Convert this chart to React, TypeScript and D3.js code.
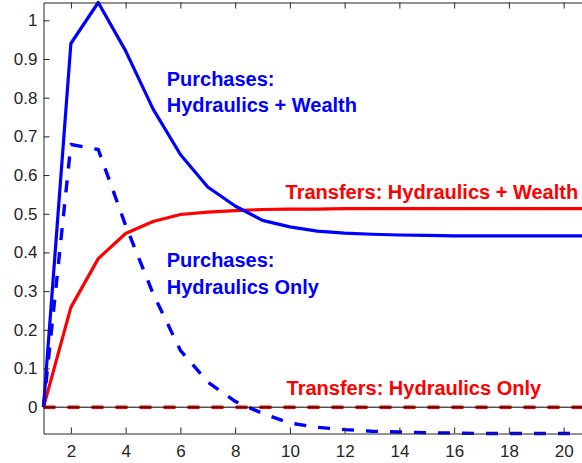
import { useRef, useEffect } from "react";
import * as d3 from "d3";

const WIDTH = 582;
const HEIGHT = 463;
const LEFT = 43.5;
const RIGHT = 591; // plot box runs past the right edge of the picture
const TOP = 2.5;
const BOTTOM = 433.5;

const periods = [1, 2, 3, 4, 5, 6, 7, 8, 9, 10, 11, 12, 13, 14, 15, 16, 17, 18, 19, 20, 21];
const purchasesWealth = [0, 0.94, 1.046, 0.921, 0.771, 0.653, 0.569, 0.52, 0.483, 0.466, 0.455, 0.45, 0.447, 0.445, 0.444, 0.443, 0.443, 0.443, 0.443, 0.443, 0.443];
const transfersWealth = [0, 0.258, 0.384, 0.449, 0.48, 0.498, 0.504, 0.508, 0.511, 0.512, 0.512, 0.513, 0.513, 0.513, 0.513, 0.513, 0.513, 0.513, 0.513, 0.513, 0.513];
const purchasesOnly = [0, 0.679, 0.666, 0.47, 0.294, 0.147, 0.065, 0.015, -0.016, -0.041, -0.052, -0.058, -0.062, -0.064, -0.066, -0.067, -0.068, -0.068, -0.068, -0.068, -0.068];
const transfersOnly = [0, 0, 0, 0, 0, 0, 0, 0, 0, 0, 0, 0, 0, 0, 0, 0, 0, 0, 0, 0, 0];

const xTicks = [2, 4, 6, 8, 10, 12, 14, 16, 18, 20];
const yTicks = [0, 0.1, 0.2, 0.3, 0.4, 0.5, 0.6, 0.7, 0.8, 0.9, 1];

// annotations, placed in data units
const labels = [
  { lines: ["Purchases:", "Hydraulics + Wealth"], x: 5.5, y: 0.831, color: "#0000ff", anchor: "start" },
  { lines: ["Transfers: Hydraulics + Wealth"], x: 20.53, y: 0.539, color: "#ff0000", anchor: "end" },
  { lines: ["Purchases:", "Hydraulics Only"], x: 5.5, y: 0.362, color: "#0000ff", anchor: "start" },
  { lines: ["Transfers: Hydraulics Only"], x: 9.88, y: 0.031, color: "#ff0000", anchor: "start" },
];

const AXIS = "#262626";
const FONT = "'Liberation Sans', Arial, Helvetica, sans-serif";

export default function App() {
  const svgRef = useRef<SVGSVGElement>(null);

  useEffect(() => {
    const svg = d3.select(svgRef.current);
    svg.selectAll("*").remove();

    const x = d3.scaleLinear().domain([1, 21]).range([LEFT, RIGHT]);
    const y = d3.scaleLinear().domain([-0.068, 1.046]).range([BOTTOM, TOP]);

    const styleAxis = (a: any) => {
      a.select(".domain").attr("stroke", AXIS).attr("stroke-width", 1);
      a.selectAll("line").attr("stroke", AXIS).attr("stroke-width", 1);
      a.selectAll("text").attr("fill", AXIS).attr("font-size", "17px").attr("font-family", FONT);
    };

    // series
    const series = [
      { values: transfersWealth, color: "#ff0000", width: 3.2, dash: null },
      { values: purchasesWealth, color: "#0000ff", width: 3.2, dash: null },
      { values: purchasesOnly, color: "#0000ff", width: 3.4, dash: "12,12" },
      { values: transfersOnly, color: "#ff0000", width: 3.4, dash: "12,12" },
    ];

    const line = d3.line<number>()
      .x((_, i) => x(periods[i]))
      .y((d) => y(d));

    for (const s of series) {
      svg.append("path")
        .datum(s.values)
        .attr("fill", "none")
        .attr("stroke", s.color)
        .attr("stroke-width", s.width)
        .attr("stroke-dasharray", s.dash)
        .attr("stroke-linejoin", "round")
        .attr("d", line);
    }

    // zero reference line
    svg.append("line")
      .attr("x1", LEFT).attr("x2", WIDTH)
      .attr("y1", y(0)).attr("y2", y(0))
      .attr("stroke", "#000").attr("stroke-width", 1);

    // axes, ticks pointing inward
    svg.append("g")
      .attr("transform", `translate(0,${BOTTOM})`)
      .call(d3.axisBottom(x).tickValues(xTicks).tickSize(-6).tickSizeOuter(0).tickPadding(11.5).tickFormat(d3.format("d")))
      .call(styleAxis);

    svg.append("g")
      .attr("transform", `translate(0,${TOP})`)
      .call(d3.axisTop(x).tickValues(xTicks).tickSize(-6).tickSizeOuter(0).tickFormat(() => ""))
      .call(styleAxis);

    svg.append("g")
      .attr("transform", `translate(${LEFT},0)`)
      .call(d3.axisLeft(y).tickValues(yTicks).tickSize(-6).tickSizeOuter(0).tickPadding(6).tickFormat((d) => String(Math.round((d as number) * 10) / 10)))
      .call(styleAxis);

    // annotations
    for (const l of labels) {
      const t = svg.append("text")
        .attr("x", x(l.x))
        .attr("y", y(l.y))
        .attr("fill", l.color)
        .attr("font-family", FONT)
        .attr("font-weight", "bold")
        .attr("font-size", "20px")
        .attr("text-anchor", l.anchor);
      l.lines.forEach((s, i) => {
        t.append("tspan")
          .attr("x", x(l.x))
          .attr("dy", i === 0 ? 0 : 26.5)
          .text(s);
      });
    }
  }, []);

  return (
    <svg
      ref={svgRef}
      width={WIDTH}
      height={HEIGHT}
      viewBox={`0 0 ${WIDTH} ${HEIGHT}`}
      style={{ position: "absolute", left: 0, top: 0, background: "#fff", overflow: "hidden" }}
    />
  );
}
